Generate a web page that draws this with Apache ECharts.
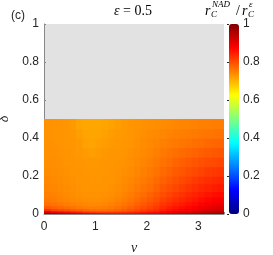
<!DOCTYPE html>
<html><head><meta charset="utf-8">
<script src="https://cdn.jsdelivr.net/npm/echarts@6/dist/echarts.min.js"></script>
<style>html,body{margin:0;padding:0;background:#fff}#c{width:273px;height:255px}</style>
</head><body><div id="c"></div>
<script>
// cell edges along nu (x) and delta (y)
const nuEdges = [0,0.125,0.25,0.375,0.5,0.625,0.75,0.875,1,1.125,1.25,1.375,1.5,1.625,1.75,1.875,
  2,2.125,2.25,2.375,2.5,2.625,2.75,2.875,3,3.125,3.25,3.375,3.5];
const deltaEdges = [0,0.006,0.012,0.02,0.03,0.045,0.065,0.09,0.12,0.16,0.2,0.25,0.3,0.35,0.4,0.45,0.5];
// r_C^NAD / r_C^eps: one row per nu cell (left to right), values from delta=0 (bottom) up to delta=0.5
const ratioByNu = [
  [0.985,0.94,0.88,0.83,0.79,0.768,0.757,0.751,0.746,0.742,0.739,0.736,0.734,0.733,0.732,0.732],
  [0.975,0.92,0.86,0.81,0.78,0.762,0.753,0.748,0.744,0.74,0.737,0.735,0.733,0.732,0.731,0.731],
  [0.968,0.91,0.85,0.802,0.774,0.757,0.748,0.743,0.74,0.737,0.735,0.733,0.732,0.731,0.73,0.73],
  [0.96,0.9,0.84,0.795,0.768,0.752,0.744,0.74,0.737,0.735,0.733,0.731,0.73,0.729,0.729,0.728],
  [0.952,0.885,0.825,0.787,0.762,0.748,0.741,0.737,0.735,0.733,0.731,0.73,0.729,0.728,0.727,0.725],
  [0.944,0.872,0.815,0.78,0.757,0.745,0.738,0.734,0.732,0.731,0.73,0.729,0.727,0.725,0.72,0.716],
  [0.935,0.86,0.805,0.773,0.752,0.742,0.736,0.732,0.731,0.73,0.729,0.727,0.723,0.718,0.715,0.713],
  [0.925,0.85,0.797,0.768,0.75,0.74,0.735,0.732,0.73,0.729,0.728,0.726,0.72,0.716,0.714,0.712],
  [0.915,0.843,0.792,0.766,0.75,0.741,0.735,0.732,0.73,0.729,0.728,0.727,0.723,0.719,0.715,0.713],
  [0.907,0.84,0.792,0.767,0.752,0.743,0.737,0.733,0.731,0.73,0.729,0.728,0.726,0.722,0.718,0.714],
  [0.9,0.84,0.795,0.771,0.757,0.748,0.741,0.736,0.733,0.731,0.73,0.729,0.728,0.725,0.721,0.717],
  [0.897,0.842,0.8,0.777,0.763,0.754,0.747,0.741,0.737,0.734,0.732,0.73,0.729,0.727,0.725,0.722],
  [0.895,0.846,0.807,0.785,0.771,0.761,0.753,0.747,0.742,0.738,0.735,0.732,0.73,0.728,0.727,0.725],
  [0.897,0.852,0.815,0.794,0.78,0.77,0.761,0.754,0.748,0.743,0.739,0.735,0.733,0.731,0.729,0.728],
  [0.9,0.858,0.824,0.804,0.79,0.779,0.77,0.762,0.755,0.749,0.744,0.74,0.737,0.734,0.732,0.73],
  [0.903,0.865,0.833,0.814,0.8,0.789,0.779,0.77,0.762,0.756,0.75,0.745,0.741,0.738,0.735,0.733],
  [0.906,0.872,0.842,0.824,0.81,0.799,0.789,0.779,0.77,0.763,0.757,0.751,0.746,0.742,0.738,0.735],
  [0.91,0.879,0.851,0.834,0.82,0.809,0.798,0.788,0.779,0.771,0.764,0.757,0.751,0.746,0.741,0.737],
  [0.916,0.889,0.864,0.848,0.834,0.822,0.811,0.8,0.79,0.781,0.772,0.764,0.757,0.75,0.744,0.739],
  [0.923,0.898,0.875,0.859,0.845,0.832,0.82,0.809,0.799,0.789,0.779,0.77,0.762,0.754,0.747,0.741],
  [0.931,0.908,0.886,0.869,0.855,0.842,0.83,0.819,0.808,0.797,0.787,0.777,0.767,0.758,0.75,0.743],
  [0.938,0.916,0.895,0.878,0.863,0.85,0.838,0.827,0.815,0.804,0.793,0.782,0.771,0.761,0.752,0.745],
  [0.945,0.924,0.903,0.886,0.871,0.858,0.846,0.835,0.823,0.811,0.799,0.787,0.775,0.764,0.754,0.746],
  [0.952,0.931,0.911,0.894,0.879,0.866,0.854,0.843,0.831,0.818,0.805,0.792,0.779,0.767,0.756,0.748],
  [0.96,0.94,0.92,0.903,0.888,0.874,0.862,0.85,0.838,0.825,0.811,0.797,0.783,0.77,0.759,0.75],
  [0.968,0.948,0.928,0.911,0.896,0.882,0.869,0.857,0.844,0.831,0.816,0.802,0.787,0.773,0.761,0.751],
  [0.975,0.955,0.935,0.918,0.902,0.888,0.875,0.862,0.849,0.835,0.82,0.805,0.79,0.775,0.762,0.752],
  [0.98,0.96,0.94,0.923,0.907,0.892,0.879,0.866,0.853,0.839,0.823,0.808,0.792,0.777,0.764,0.753]
];
const xTicks = [0,1,2,3];
const yTicks = [0,0.2,0.4,0.6,0.8,1];
const cbTicks = [0,0.2,0.4,0.6,0.8,1];

const cells = [];
ratioByNu.forEach((col, i) => col.forEach((v, j) => {
  cells.push([nuEdges[i], nuEdges[i+1], deltaEdges[j], deltaEdges[j+1], v]);
}));

const jet = ['#000080','#0000ff','#0080ff','#00ffff','#80ff80','#ffff00','#ff8000','#ff0000','#800000'];
const sans = '"Liberation Sans", Arial, sans-serif';
const serif = '"Liberation Serif", "Times New Roman", serif';
const txt = '#262626';

const chart = echarts.init(document.getElementById('c'), null, {renderer:'canvas'});
chart.setOption({
  animation:false,
  grid:[
    {left:44, top:24, width:180, height:190, show:true, backgroundColor:'#e2e2e2', borderWidth:0, z:0,
     containLabel:false, outerBoundsMode:'none'},
    {left:229, top:24, width:10, height:190, show:false, containLabel:false, outerBoundsMode:'none'}
  ],
  xAxis:[
    {type:'value', gridIndex:0, min:0, max:3.5, interval:1, z:1,
     name:'ν', nameLocation:'middle', nameGap:27,
     nameTextStyle:{fontFamily:serif, fontStyle:'italic', fontSize:14, color:txt},
     axisLine:{show:true, lineStyle:{color:'#888', width:1}},
     axisTick:{show:true, inside:true, length:2, lineStyle:{color:'#888'}},
     axisLabel:{fontFamily:sans, fontSize:12, color:txt, margin:7,
       formatter:function(v){ return xTicks.indexOf(v) >= 0 ? String(v) : ''; }},
     splitLine:{show:false}},
    {type:'value', gridIndex:1, show:false, min:0, max:1}
  ],
  yAxis:[
    {type:'value', gridIndex:0, min:0, max:1, interval:0.2, z:1,
     name:'δ', nameLocation:'middle', nameGap:22,
     nameTextStyle:{fontFamily:serif, fontStyle:'italic', fontSize:14, color:txt},
     axisLine:{show:true, lineStyle:{color:'#888', width:1}},
     axisTick:{show:true, inside:true, length:2, lineStyle:{color:'#888'}},
     axisLabel:{fontFamily:sans, fontSize:12, color:txt, margin:5},
     splitLine:{show:false}},
    {type:'value', gridIndex:1, min:0, max:1, interval:0.2, position:'right',
     axisLine:{show:false},
     axisTick:{show:true, inside:true, length:2, lineStyle:{color:txt}},
     axisLabel:{fontFamily:sans, fontSize:12, color:txt, margin:4},
     splitLine:{show:false}}
  ],
  visualMap:{
    type:'continuous', min:0, max:1, dimension:4, seriesIndex:0,
    left:229, top:24, itemWidth:10, itemHeight:190, padding:0,
    calculable:false, text:null, showLabel:false, hoverLink:false,
    inRange:{color:jet}
  },
  series:[{
    type:'custom', xAxisIndex:0, yAxisIndex:0, clip:true, z:2,
    encode:{x:[0,1], y:[2,3]},
    data:cells,
    renderItem:function(params, api){
      const p0 = api.coord([api.value(0), api.value(3)]);
      const p1 = api.coord([api.value(1), api.value(2)]);
      return {type:'rect',
        shape:{x:p0[0], y:p0[1], width:p1[0]-p0[0]+0.7, height:p1[1]-p0[1]+0.7},
        style:{fill:api.visual('color')}};
    }
  }],
  graphic:[
    {type:'text', x:18, y:16, style:{text:'(c)', font:'12px '+sans, fill:txt, align:'center', verticalAlign:'middle'}},
    {type:'text', x:133, y:11, style:{text:'{i|ε}{n| = 0.5}', align:'center', verticalAlign:'middle',
      rich:{i:{fontFamily:serif, fontStyle:'italic', fontSize:14, color:'#000'},
            n:{fontFamily:serif, fontSize:14, color:'#000'}}}},
    {type:'text', x:205, y:11, style:{text:'r', font:'italic 14px '+serif, fill:'#000', align:'left', verticalAlign:'middle'}},
    {type:'text', x:212, y:5, style:{text:'NAD', font:'italic 9px '+serif, fill:'#000', align:'left', verticalAlign:'middle'}},
    {type:'text', x:211, y:15, style:{text:'C', font:'italic 9px '+serif, fill:'#000', align:'left', verticalAlign:'middle'}},
    {type:'text', x:236, y:11, style:{text:'/', font:'14px '+serif, fill:'#000', align:'left', verticalAlign:'middle'}},
    {type:'text', x:242, y:11, style:{text:'r', font:'italic 14px '+serif, fill:'#000', align:'left', verticalAlign:'middle'}},
    {type:'text', x:249, y:5, style:{text:'ε', font:'italic 9px '+serif, fill:'#000', align:'left', verticalAlign:'middle'}},
    {type:'text', x:248, y:15, style:{text:'C', font:'italic 9px '+serif, fill:'#000', align:'left', verticalAlign:'middle'}}
  ]
});
</script></body></html>
